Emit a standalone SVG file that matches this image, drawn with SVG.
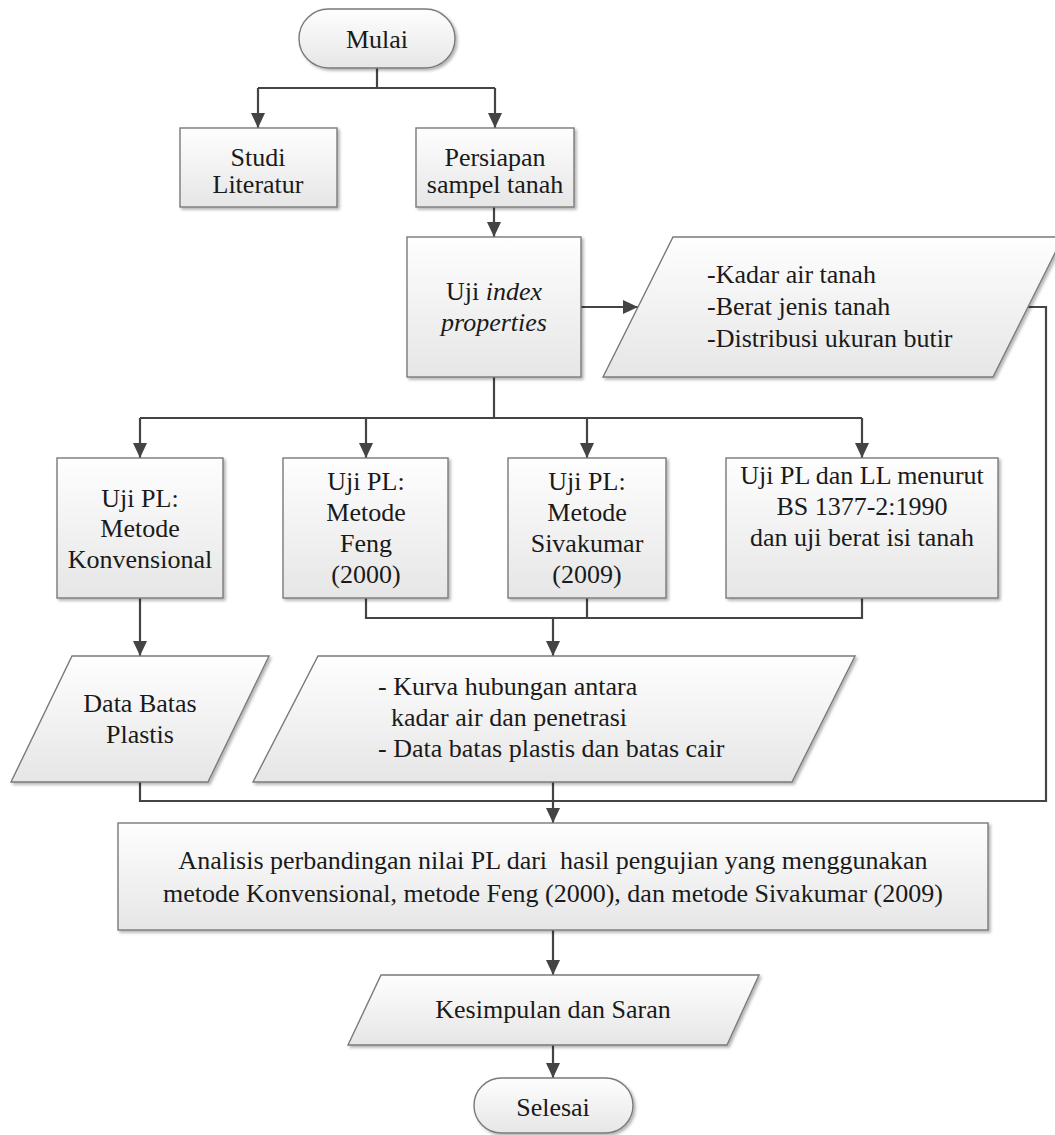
<svg xmlns="http://www.w3.org/2000/svg" width="1055" height="1135" viewBox="0 0 1055 1135">
<style>
.n{fill:url(#g);stroke:#7a7a7a;stroke-width:1.4;filter:url(#sh)}
text{font-size:26px;fill:#1a1a1a}
.c{text-anchor:middle}
.e{fill:none;stroke:#444;stroke-width:2.2}
.a{marker-end:url(#ah)}
</style>
<defs>
<linearGradient id="g" x1="0" y1="0" x2="0" y2="1">
<stop offset="0" stop-color="#fefefe"/>
<stop offset="1" stop-color="#e6e6e6"/>
</linearGradient>
<filter id="sh" x="-10%" y="-10%" width="130%" height="130%">
<feDropShadow dx="2" dy="2" stdDeviation="1.5" flood-color="#000" flood-opacity="0.3"/>
</filter>
<marker id="ah" markerUnits="userSpaceOnUse" markerWidth="16" markerHeight="14" refX="15" refY="7" orient="auto">
<path d="M0,0 L15,7 L0,14 z" fill="#444"/>
</marker>
</defs>
<rect width="1055" height="1135" fill="#fff"/>

<g id="connectors">
<path class="e" d="M377,68 V88 M258,88 H495"/>
<path class="e a" d="M258,88 V128"/>
<path class="e a" d="M495,88 V128"/>
<path class="e a" d="M494,207 V237"/>
<path class="e a" d="M581,307 H638"/>
<path class="e" d="M494,377 V418 M140,418 H862"/>
<path class="e a" d="M140,418 V458"/>
<path class="e a" d="M366,418 V458"/>
<path class="e a" d="M587,418 V458"/>
<path class="e a" d="M862,418 V458"/>
<path class="e a" d="M140,598 V656"/>
<path class="e" d="M366,598 V618 H862 V598 M587,598 V618"/>
<path class="e a" d="M553,618 V656"/>
<path class="e" d="M140,782 V801 H1046 V307 H1028 M553,782 V801"/>
<path class="e a" d="M553,801 V823"/>
<path class="e a" d="M553,930 V975"/>
<path class="e a" d="M553,1045 V1078"/>
</g>

<g id="mulai" font-family="Times New Roman">
<rect class="n" x="299" y="9" width="156" height="59" rx="29.5"/>
<text class="c" x="377" y="48">Mulai</text>
</g>

<g id="studi" font-family="Times New Roman">
<rect class="n" x="180" y="128" width="157" height="79"/>
<text class="c" x="258" y="166">Studi</text>
<text class="c" x="258" y="193">Literatur</text>
</g>

<g id="persiapan" font-family="Times New Roman">
<rect class="n" x="416" y="128" width="158" height="79"/>
<text class="c" x="495" y="166">Persiapan</text>
<text class="c" x="495" y="193">sampel tanah</text>
</g>

<g id="uji-index" font-family="Times New Roman">
<rect class="n" x="407" y="237" width="174" height="140"/>
<text class="c" x="494" y="300">Uji <tspan font-style="italic">index</tspan></text>
<text class="c" x="494" y="331" font-style="italic">properties</text>
</g>

<g id="hasil-index" font-family="Times New Roman">
<polygon class="n" points="673,237 1063,237 993,377 603,377"/>
<text x="707" y="283">-Kadar air tanah</text>
<text x="707" y="315">-Berat jenis tanah</text>
<text x="707" y="347">-Distribusi ukuran butir</text>
</g>

<g id="uji-konvensional" font-family="Times New Roman">
<rect class="n" x="57" y="458" width="166" height="140"/>
<text class="c" x="140" y="507">Uji PL:</text>
<text class="c" x="140" y="537">Metode</text>
<text class="c" x="140" y="568">Konvensional</text>
</g>

<g id="uji-feng" font-family="Times New Roman">
<rect class="n" x="283" y="458" width="165" height="140"/>
<text class="c" x="366" y="490">Uji PL:</text>
<text class="c" x="366" y="521">Metode</text>
<text class="c" x="366" y="552">Feng</text>
<text class="c" x="366" y="583">(2000)</text>
</g>

<g id="uji-sivakumar" font-family="Times New Roman">
<rect class="n" x="508" y="458" width="158" height="140"/>
<text class="c" x="587" y="490">Uji PL:</text>
<text class="c" x="587" y="521">Metode</text>
<text class="c" x="587" y="552">Sivakumar</text>
<text class="c" x="587" y="583">(2009)</text>
</g>

<g id="uji-bs" font-family="Times New Roman">
<rect class="n" x="726" y="458" width="272" height="140"/>
<text class="c" x="862" y="484">Uji PL dan LL menurut</text>
<text class="c" x="862" y="515">BS 1377-2:1990</text>
<text class="c" x="862" y="546">dan uji berat isi tanah</text>
</g>

<g id="data-batas" font-family="Times New Roman">
<polygon class="n" points="72,656 269,656 208,782 11,782"/>
<text class="c" x="140" y="712">Data Batas</text>
<text class="c" x="140" y="743">Plastis</text>
</g>

<g id="kurva" font-family="Times New Roman">
<polygon class="n" points="318,656 855,656 792,782 253,782"/>
<text x="378" y="695">- Kurva hubungan antara</text>
<text x="391" y="726">kadar air dan penetrasi</text>
<text x="378" y="757">- Data batas plastis dan batas cair</text>
</g>

<g id="analisis" font-family="Times New Roman">
<rect class="n" x="118" y="823" width="870" height="107"/>
<text class="c" x="553" y="869" xml:space="preserve">Analisis perbandingan nilai PL dari  hasil pengujian yang menggunakan</text>
<text class="c" x="553" y="902">metode Konvensional, metode Feng (2000), dan metode Sivakumar (2009)</text>
</g>

<g id="kesimpulan" font-family="Times New Roman">
<polygon class="n" points="381,975 759,975 727,1045 348,1045"/>
<text class="c" x="553" y="1018">Kesimpulan dan Saran</text>
</g>

<g id="selesai" font-family="Times New Roman">
<rect class="n" x="474" y="1078" width="159" height="55" rx="27.5"/>
<text class="c" x="553" y="1116">Selesai</text>
</g>
</svg>
